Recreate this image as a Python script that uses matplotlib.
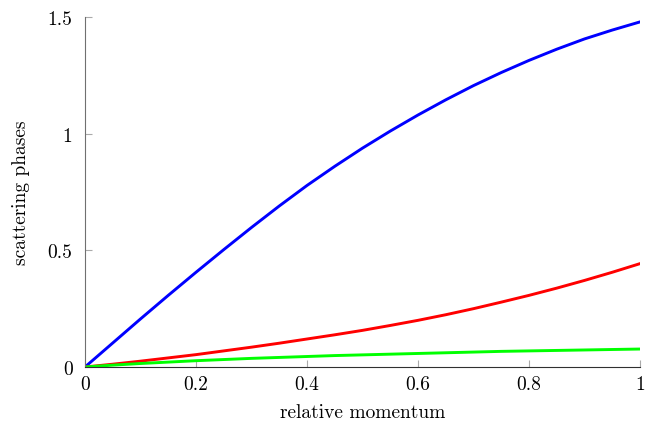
import matplotlib
matplotlib.use("Agg")
import matplotlib.pyplot as plt

x = [0.0, 0.05, 0.1, 0.15, 0.2, 0.25, 0.3, 0.35, 0.4, 0.45, 0.5,
     0.55, 0.6, 0.65, 0.7, 0.75, 0.8, 0.85, 0.9, 0.95, 1.0]
blue = [0.0, 0.103, 0.206, 0.307, 0.406, 0.503, 0.598, 0.690, 0.778, 0.860, 0.938,
        1.011, 1.080, 1.145, 1.206, 1.262, 1.314, 1.362, 1.406, 1.444, 1.479]
red = [0.0, 0.012, 0.025, 0.039, 0.053, 0.069, 0.085, 0.102, 0.120, 0.138, 0.157,
       0.178, 0.200, 0.224, 0.250, 0.278, 0.307, 0.338, 0.371, 0.406, 0.443]
green = [0.0, 0.008, 0.015, 0.021, 0.027, 0.032, 0.037, 0.041, 0.045, 0.049, 0.052,
         0.055, 0.058, 0.061, 0.064, 0.067, 0.069, 0.071, 0.073, 0.075, 0.077]

xticks = [0, 0.2, 0.4, 0.6, 0.8, 1.0]
yticks = [0, 0.5, 1.0, 1.5]

plt.rcParams['font.family'] = ['cmr10', 'DejaVu Serif']
plt.rcParams['axes.formatter.use_mathtext'] = True

fig = plt.figure(figsize=(6.45, 4.27), dpi=100)
ax = fig.add_axes([85/645, 59/427, 555/645, 350/427])

ax.plot(x, blue, color='#0000ff', lw=2.1, solid_joinstyle='round')
ax.plot(x, red, color='#ff0000', lw=2.1, solid_joinstyle='round')
ax.plot(x, green, color='#00ff00', lw=2.1, solid_joinstyle='round')

ax.set_xlim(0, 1)
ax.set_ylim(0, 1.5)
ax.set_xticks(xticks)
ax.set_yticks(yticks)
ax.set_xticklabels(['%g' % t for t in xticks])
ax.set_yticklabels(['%g' % t for t in yticks])
ax.tick_params(direction='in', length=5, color='#aaaaaa', labelsize=14)
ax.tick_params(axis='y', pad=9)
ax.tick_params(axis='x', pad=6)
for s in ['top', 'right']:
    ax.spines[s].set_visible(False)
ax.spines['left'].set_color('#707070')
ax.spines['bottom'].set_color('#303030')
ax.set_xlabel('relative momentum', fontsize=14, labelpad=7)
ax.set_ylabel('scattering phases', fontsize=14, labelpad=13)

fig.savefig('out.png', dpi=100)
